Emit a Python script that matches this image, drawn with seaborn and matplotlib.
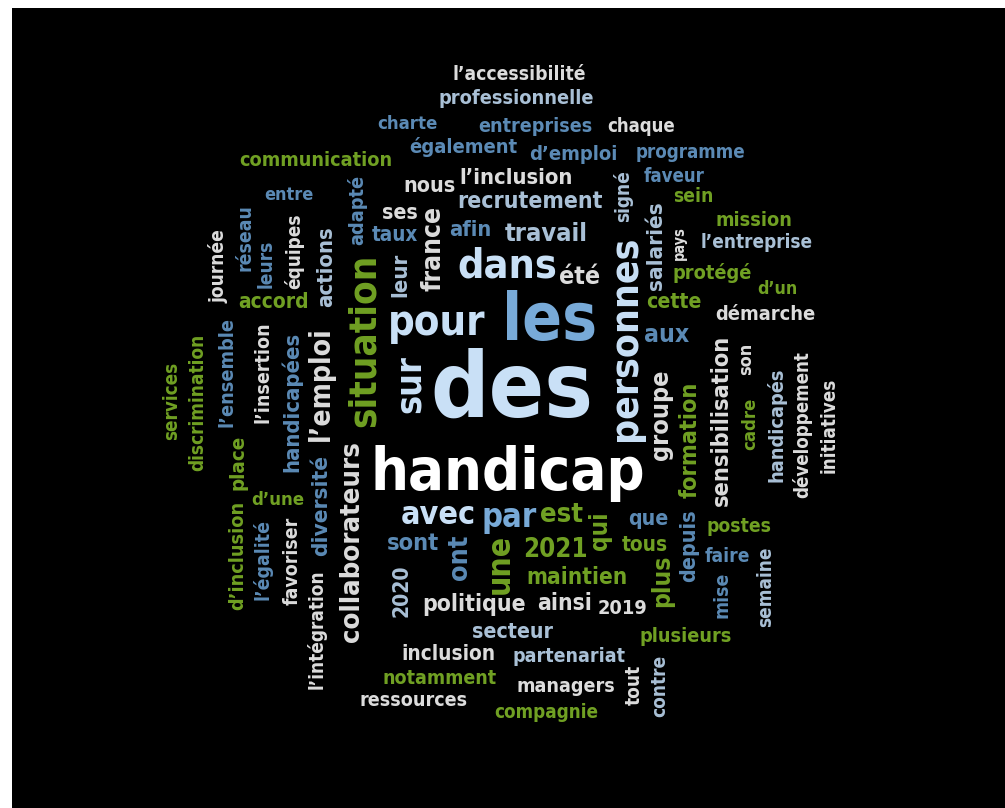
import matplotlib
matplotlib.use("Agg")
import matplotlib.pyplot as plt
from matplotlib import font_manager as fm
import seaborn as sns

# words of the cloud, with the tone each one is drawn in
words = [
    "l’accessibilité", "professionnelle", "charte", "entreprises", "chaque",
    "communication", "également", "d’emploi", "programme", "faveur",
    "sein", "mission", "nous", "l’inclusion", "recrutement",
    "entre", "ses", "taux", "afin", "travail",
    "dans", "été", "pour", "les", "des",
    "handicap", "avec", "par", "est", "sont",
    "2021", "que", "tous", "postes", "faire",
    "maintien", "politique", "ainsi", "2019", "secteur",
    "inclusion", "partenariat", "notamment", "managers", "ressources",
    "compagnie", "plusieurs", "l’entreprise", "protégé", "d’un",
    "cette", "démarche", "aux", "accord", "d’une",
    "services", "discrimination", "journée", "l’ensemble", "place",
    "d’inclusion", "réseau", "leurs", "équipes", "l’égalité",
    "l’insertion", "handicapées", "favoriser", "l’intégration", "actions",
    "l’emploi", "diversité", "collaborateurs", "adapté", "situation",
    "sur", "leur", "france", "une", "ont",
    "2020", "qui", "personnes", "groupe", "signé",
    "salariés", "pays", "formation", "sensibilisation", "son",
    "cadre", "handicapés", "développement", "initiatives", "depuis",
    "plus", "mise", "semaine", "tout", "contre",
]

tones = [
    "gray", "lsteel", "steel", "steel", "gray",
    "green", "steel", "steel", "steel", "steel",
    "green", "green", "gray", "gray", "lsteel",
    "steel", "gray", "steel", "steel", "lsteel",
    "pale", "gray", "pale", "mid", "pale",
    "white", "pale", "mid", "green", "steel",
    "green", "steel", "green", "green", "steel",
    "green", "gray", "gray", "gray", "lsteel",
    "gray", "lsteel", "green", "gray", "gray",
    "green", "green", "lsteel", "green", "green",
    "green", "gray", "steel", "green", "green",
    "green", "green", "gray", "steel", "green",
    "green", "steel", "steel", "gray", "steel",
    "gray", "steel", "gray", "gray", "lsteel",
    "gray", "steel", "gray", "steel", "green",
    "pale", "lsteel", "gray", "green", "steel",
    "lsteel", "green", "pale", "gray", "lsteel",
    "lsteel", "gray", "green", "gray", "gray",
    "green", "lsteel", "gray", "gray", "steel",
    "green", "steel", "lsteel", "gray", "lsteel",
]

# layout: centre x, centre y (pixels), length along the word, vertical?
layout = [
    (519, 74, 132, 0), (516, 99, 155, 0), (407, 124, 60, 0), (535, 127, 114, 0), (641, 127, 68, 0),
    (316, 161, 152, 0), (463, 147, 108, 0), (573, 155, 88, 0), (690, 153, 109, 0), (674, 176, 61, 0),
    (693, 197, 40, 0), (754, 220, 76, 0), (429, 186, 52, 0), (516, 178, 112, 0), (530, 202, 145, 0),
    (289, 195, 49, 0), (400, 213, 36, 0), (395, 235, 46, 0), (470, 230, 42, 0), (546, 234, 82, 0),
    (507, 267, 100, 0), (580, 277, 41, 0), (437, 323, 97, 0), (550, 322, 95, 0), (512, 392, 163, 0),
    (508, 474, 273, 0), (438, 515, 75, 0), (509, 517, 55, 0), (561, 515, 43, 0), (413, 544, 52, 0),
    (555, 550, 65, 0), (648, 519, 40, 0), (645, 545, 46, 0), (739, 527, 65, 0), (727, 556, 45, 0),
    (577, 578, 100, 0), (474, 605, 102, 0), (565, 603, 54, 0), (622, 609, 50, 0), (512, 632, 81, 0),
    (448, 654, 93, 0), (569, 657, 112, 0), (440, 678, 113, 0), (566, 686, 98, 0), (414, 700, 108, 0),
    (546, 712, 103, 0), (686, 636, 92, 0), (757, 243, 111, 0), (712, 273, 79, 0), (777, 289, 40, 0),
    (674, 302, 55, 0), (765, 315, 100, 0), (667, 335, 45, 0), (274, 302, 70, 0), (278, 500, 53, 0),
    (172, 401, 78, 1), (198, 402, 137, 1), (218, 266, 73, 1), (227, 372, 109, 1), (238, 462, 55, 1),
    (238, 555, 108, 1), (245, 238, 67, 1), (266, 264, 48, 1), (294, 251, 75, 1), (262, 560, 80, 1),
    (263, 372, 100, 1), (292, 402, 140, 1), (292, 561, 88, 1), (317, 629, 118, 1), (326, 267, 80, 1),
    (321, 384, 113, 1), (321, 505, 100, 1), (352, 542, 200, 1), (357, 210, 70, 1), (365, 340, 172, 1),
    (410, 384, 58, 1), (400, 275, 44, 1), (433, 248, 85, 1), (500, 564, 60, 1), (460, 557, 45, 1),
    (401, 591, 53, 1), (600, 531, 38, 1), (625, 338, 205, 1), (661, 415, 90, 1), (623, 196, 52, 1),
    (656, 246, 88, 1), (679, 243, 34, 1), (690, 440, 116, 1), (721, 420, 170, 1), (746, 359, 32, 1),
    (750, 424, 52, 1), (776, 425, 114, 1), (802, 425, 146, 1), (829, 425, 94, 1), (689, 546, 72, 1),
    (662, 581, 52, 1), (722, 595, 46, 1), (766, 587, 80, 1), (634, 685, 40, 1), (660, 686, 62, 1),
]

palette = {
    "white": "#ffffff",
    "pale": "#c9e0f6",
    "mid": "#78aad8",
    "steel": "#5b8ab5",
    "lsteel": "#a9c0d6",
    "gray": "#dcdcdc",
    "green": "#70a023",
}

sns.set_theme(style="white", rc={"figure.facecolor": "white", "axes.facecolor": "black"})
plt.rcParams["font.family"] = ["DejaVu Sans"]


def weight_of(w):
    names = {"normal": 400, "regular": 400, "medium": 500, "semibold": 600, "demibold": 600,
             "bold": 700, "extra bold": 800, "heavy": 800, "black": 900}
    return w if isinstance(w, (int, float)) else names.get(str(w).lower(), 400)


def pick_font():
    # narrow, heavy face closest to the cloud's lettering
    stretch_rank = {"condensed": 0, "extra-condensed": 1, "semi-condensed": 2, "ultra-condensed": 3}
    fam_rank = {"Noto Sans": 0, "Roboto": 1, "Liberation Sans Narrow": 1, "Open Sans": 2, "DejaVu Sans": 3}
    best, best_key = None, None
    for f in fm.fontManager.ttflist:
        wt = weight_of(f.weight)
        if wt < 600 or "italic" in str(f.style).lower():
            continue
        st = str(f.stretch)
        if "Narrow" in f.name:
            st = "condensed"
        if st not in stretch_rank:
            continue
        key = (stretch_rank[st], fam_rank.get(f.name, 5), abs(wt - 800))
        if best_key is None or key < best_key:
            best, best_key = f, key
    if best is None:
        return fm.FontProperties(family="DejaVu Sans", weight="bold")
    return fm.FontProperties(fname=best.fname)


font = pick_font()

fig = plt.figure(figsize=(10.05, 8.08), dpi=100)
ax = fig.add_axes([12 / 1005, 0, 993 / 1005, 800 / 808])
ax.set_xlim(12, 1005)
ax.set_ylim(808, 8)
ax.set_facecolor("black")
ax.set_xticks([])
ax.set_yticks([])
sns.despine(ax=ax, left=True, bottom=True)

texts = []
for w, (x, y, span, vert), t in zip(words, layout, tones):
    txt = ax.text(x, y, w, fontproperties=font, fontsize=10, color=palette[t],
                  rotation=90 if vert else 0, ha="center", va="center")
    texts.append((txt, span, vert))

# scale each word so its length matches the cloud
fig.canvas.draw()
renderer = fig.canvas.get_renderer()
for txt, span, vert in texts:
    bb = txt.get_window_extent(renderer)
    length = bb.height if vert else bb.width
    txt.set_fontsize(10 * span / length)

fig.savefig("out.png", dpi=100)
